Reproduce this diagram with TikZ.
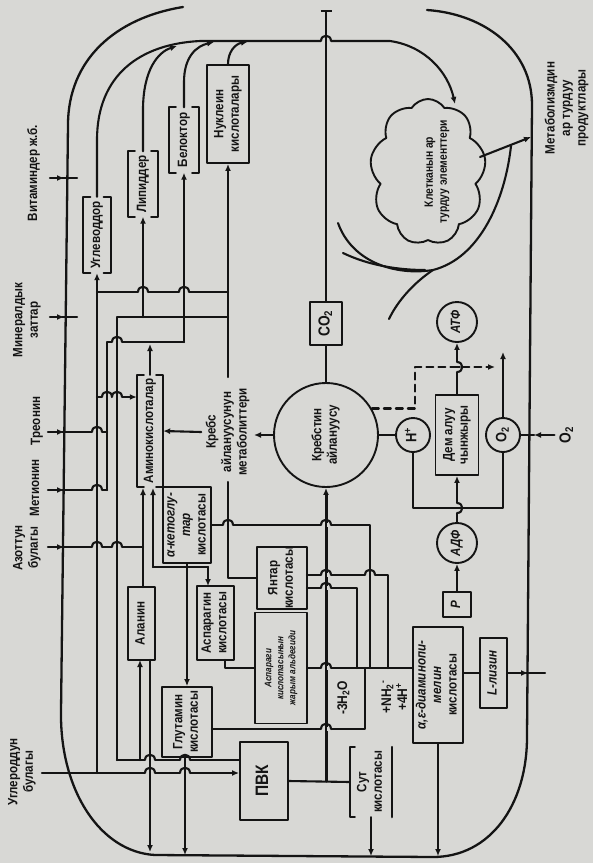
\documentclass[tikz,border=0pt]{standalone}
\usepackage{graphicx}
\usepackage{fontspec}
\setmainfont{Liberation Sans}[FakeStretch=0.86]
\usetikzlibrary{arrows.meta,calc,shapes.symbols}

\definecolor{paper}{RGB}{216,216,213}
\definecolor{ink}{RGB}{20,20,20}

% rotated text, read from bottom to top
\newcommand\rt[2][]{\rotatebox{90}{#1\begin{tabular}{@{}c@{}}#2\end{tabular}}}
% horizontal line hopping over a vertical one
\newcommand\hoph[2]{%
  \fill[paper] (#1-5,#2-2.2) rectangle (#1+5,#2+2.2);
  \draw[bus] (#1-5,#2) .. controls (#1-5,#2-7) and (#1+5,#2-7) .. (#1+5,#2);
  \draw[bus] (#1,#2-2.8) -- (#1,#2+2.8);}
% vertical line hopping over a horizontal one
\newcommand\hopv[2]{%
  \fill[paper] (#1-2.2,#2-5) rectangle (#1+2.2,#2+5);
  \draw[bus] (#1,#2-5) .. controls (#1+7,#2-5) and (#1+7,#2+5) .. (#1,#2+5);
  \draw[bus] (#1-2.8,#2) -- (#1+2.8,#2);}
% open box [ ]
\newcommand\brkt[1]{%
  \draw[bus] ($(#1.north west)+(7,0)$) -- (#1.north west) -- (#1.south west) -- ($(#1.south west)+(7,0)$);
  \draw[bus] ($(#1.north east)+(-7,0)$) -- (#1.north east) -- (#1.south east) -- ($(#1.south east)+(-7,0)$);}

\tikzset{
  bus/.style={draw=ink,line width=2.1pt},
  tip/.style={-{Latex[length=7pt,width=6pt]}},
  boxn/.style={draw=ink,line width=1.9pt,inner sep=0pt},
  brk/.style={inner sep=0pt},
  rnd/.style={circle,draw=ink,line width=1.9pt,inner sep=0pt},
}

\begin{document}
\begin{tikzpicture}[x=1pt,y=-1pt,line cap=round,line join=round,
  every node/.style={text=ink,font=\bfseries\fontsize{13.5}{15.5}\selectfont}]
\fill[paper] (0,0) rectangle (593,863);
\useasboundingbox (0,0) rectangle (593,863);

% cell membrane
\draw[bus,line width=2.3pt] (183,7) .. controls (115,18) and (68,60) .. (68,125) -- (61,712)
  .. controls (60,790) and (100,852) .. (155,855) -- (433,857)
  .. controls (490,857) and (527,805) .. (527,737) -- (532,105)
  .. controls (532,50) and (485,14) .. (427,10);

% boxes
\node[brk,minimum width=27,minimum height=76] (ugl) at (97,235) {\rt{Углеводдор}};
\node[brk,minimum width=30,minimum height=65] (lip) at (143,184) {\rt{Липиддер}};
\node[brk,minimum width=30,minimum height=65] (bel) at (184,140) {\rt{Белоктор}};
\node[boxn,minimum width=42,minimum height=98] (nuk) at (228,114) {\rt{Нуклеин\\кислоталары}};
\node[brk,minimum width=26,minimum height=112] (amino) at (150,431) {\rt{Аминокислоталар}};
\node[boxn,minimum width=48,minimum height=76] (keto) at (187,525) {\rt{\itshape α-кетоглу-\\\itshape тар\\кислотасы}};
\node[boxn,minimum width=27,minimum height=73] (alan) at (141.5,623.5) {\rt{Аланин}};
\node[boxn,minimum width=37,minimum height=74] (asp) at (215.5,623) {\rt{Аспарагин\\кислотасы}};
\node[boxn,minimum width=50,minimum height=60] (yant) at (282,578) {\rt{Янтар\\кислотасы}};
\node[boxn,minimum width=52,minimum height=111] (ald) at (281,668) {\rt[\itshape\fontsize{9.5}{12}\selectfont]{Аспараги\\кислотасынын\\жарым альдегиди}};
\node[boxn,minimum width=50,minimum height=70] (glut) at (187,722) {\rt{Глутамин\\кислотасы}};
\node[boxn,minimum width=48,minimum height=78] (pvk) at (264,781) {\rt[\fontsize{18}{20}\selectfont]{ПВК}};
\node[brk,minimum width=42,minimum height=70] (sut) at (371,782) {\rt{Сут\\кислотасы}};
\node[boxn,minimum width=50,minimum height=116] (dap) at (438,685) {\rt{\itshape α,ε-диаминопи-\\\itshape мелин\\кислотасы}};
\node[boxn,minimum width=27,minimum height=70] (lys) at (493.5,673) {\rt[\itshape]{L-лизин}};
\node[boxn,minimum width=28,minimum height=25] (pb) at (457,604.5) {\rt[\itshape]{P}};
\node[boxn,minimum width=43,minimum height=80] (dem) at (457,435) {\rt{Дем алуу\\чынжыры}};
\node[boxn,minimum width=32,minimum height=43] (co2) at (326,323.5) {\rt[\fontsize{16}{18}\selectfont]{CO\textsubscript{2}}};

% circles
\node[rnd,minimum size=104] (krebs) at (326,435) {\rt{Кребстин\\айлануусу}};
\node[rnd,minimum size=34] (hp) at (413,435) {\rt[\fontsize{15}{17}\selectfont]{H\textsuperscript{+}}};
\node[rnd,minimum size=34] (o2c) at (503,435) {\rt[\fontsize{15}{17}\selectfont]{O\textsubscript{2}}};
\node[rnd,minimum size=40] (atf) at (457,322) {\rt[\itshape]{АТФ}};
\node[rnd,minimum size=40] (adf) at (457,543) {\rt[\itshape]{АДФ}};

% cloud
\node[cloud,draw=ink,line width=1.9pt,cloud puffs=9,cloud puff arc=115,
  minimum width=116,minimum height=146,inner sep=0pt] (cld) at (428,172) {};
\node (cldt) at (437,172) {\rt[\fontsize{12}{14}\selectfont]{Клетканын ар\\турдуу элементтери}};

% labels
\node (vit) at (34,173) {\rt{Витаминдер ж.б.}};
\node (minz) at (27,320) {\rt{Минералдык\\заттар}};
\node (tre) at (37,421) {\rt{Треонин}};
\node (met) at (36,488) {\rt{Метионин}};
\node (azot) at (27,548) {\rt{Азоттун\\булагы}};
\node (csrc) at (22,772) {\rt{Углероддун\\булагы}};
\node (kmet) at (228,432) {\rt{Кребс\\айлануусунун\\метаболиттери}};
\node (metab) at (567,108) {\rt{Метаболизмдин\\ар турдуу\\продуктлары}};
\node (o2l) at (567,435) {\rt[\fontsize{16}{18}\selectfont]{O\textsubscript{2}}};
\node (h2o) at (344,698) {\rt[\fontsize{14}{16}\selectfont]{-3H\textsubscript{2}O}};
\node (nh) at (396,697) {\rt[\fontsize{14}{16}\selectfont]{+NH\textsubscript{2}\textsuperscript{-}\\+4H\textsuperscript{+}}};

\brkt{ugl}
\brkt{lip}
\brkt{bel}
\brkt{amino}
\draw[bus] ($(sut.north west)+(5,0)$) -- (sut.north west) -- (sut.south west) -- ($(sut.south west)+(5,0)$);
\draw[bus] (sut.north east) -- (sut.south east);

% products to the cell elements
\draw[bus,tip] (ugl.north) -- (97,140) .. controls (97,75) and (140,44) .. (200,41) -- (390,41)
  .. controls (425,46) and (448,72) .. (455,104);
\draw[bus,tip] (lip.north) -- (143,110) .. controls (143,70) and (158,52) .. (177,46);
\draw[bus,tip] (bel.north) -- (184,82) .. controls (184,56) and (197,46) .. (214,42);
\draw[bus,tip] (nuk.north) .. controls (228,52) and (235,44) .. (248,41.5);
\draw[bus] (krebs.north) -- (co2.south);
\draw[bus,-{Bar[width=11pt]}] (co2.north) -- (326,10);
\draw[bus,tip] (480,157) -- (531,137);
\draw[bus] (338,223) .. controls (352,262) and (395,276) .. (433,270) .. controls (480,258) and (505,200) .. (511,146);
\draw[bus] (343,253) .. controls (370,266) and (400,270) .. (425,270);
\draw[bus] (433,270) .. controls (415,282) and (398,300) .. (389,319);

% inputs through the membrane
\foreach \yy in {178,317} {
  \draw[bus,tip] (50,\yy) -- (64,\yy);
  \draw[bus] (62,\yy) -- (77,\yy);
}
\foreach \yy/\xe in {432/107,490/107,547/143} {
  \draw[bus,tip] (48,\yy) -- (64,\yy);
  \draw[bus] (62,\yy) -- (\xe,\yy);
}
\draw[bus,tip] (42,773) -- (pvk.west |- 0,773);

% left bus
\draw[bus,tip] (97,773) -- (ugl.south);
\draw[bus] (97,292) -- (228,292);
\draw[bus] (117,760) -- (117,317) -- (228,317);
\draw[bus,tip] (143,317) -- (lip.south);
\draw[bus] (107,490) -- (107,342) -- (184,342);
\draw[bus,tip] (184,342) -- (bel.south);
\draw[bus,tip] (amino.north) -- (150,344);
\draw[bus,tip] (97,397) -- (amino.west |- 0,397);
\draw[bus,tip] (228,377) -- (nuk.south);
\draw[bus,tip] (krebs.west) -- (254,435);
\draw[bus,tip] (kmet.west) -- (amino.east);
\draw[bus] (228,482) |- (yant.west);
\draw[bus] (117,760) -- (pvk.west |- 0,760);
\draw[bus,tip] (140,760) -- (140,660);
\draw[bus,tip] (150,660) -- (150,852);
\draw[bus,tip] (185,757) -- (185,855);
\draw[bus,tip] (143,587) -- (143,488);
\draw[bus] (153,567) -- (208,567);
\draw[bus,tip] (153,567) -- (153,488);
\draw[bus,tip] (208,567) -- (208,586);
\draw[bus,tip] (keto.south) -- (glut.north);

% lysine branch
\draw[bus] (keto.east) -- (370,525) -- (370,668);
\draw[bus] (307,575) -- (388,575) -- (388,668);
\draw[bus] (307,588) -- (357,588) -- (357,668);
\draw[bus] (225,660) |- (ald.west);
\draw[bus] (ald.east) -- (ald.east -| dap.west);
\draw[bus] (212,729) -- (365,729) -- (365,668);
\draw[bus] (lys.west -| dap.east) -- (lys.west);
\draw[bus,tip] (lys.east) -- (528,673);
\draw[bus] (526,673) -- (545,673);
\draw[bus,tip] (dap.south) -- (438,856);

% pyruvate
\draw[bus] (pvk.east) -- (sut.west);
\draw[bus,line width=3pt,tip] (326,781) -- (krebs.south);
\draw[bus,tip] (sut.south) -- (371,856);

% respiration
\draw[bus] (krebs.east) -- (hp.west);
\draw[bus] (hp.south) -- (413,508) -- (503,508) -- (o2c.south);
\draw[bus,tip] (o2l.west) -- (534,435);
\draw[bus] (534,435) -- (o2c.east);
\draw[bus,tip] (o2c.north) -- (503,352);
\draw[bus,tip] (pb.north) -- (adf.south);
\draw[bus,tip] (adf.north) -- (dem.south);
\draw[bus,tip] (dem.north) -- (atf.south);
\draw[bus,dashed,dash pattern=on 7pt off 5pt,tip] (krebs.30) -| (415,367) -- (495,367);

% hops
\hoph{326}{41}
\hoph{143}{292}
\hoph{184}{292}
\hoph{117}{342}
\hoph{107}{397}
\hoph{117}{397}
\hoph{97}{432}
\hoph{97}{490}
\hoph{97}{547}
\hoph{117}{547}
\hoph{150}{760}
\hoph{185}{760}
\hoph{150}{773}
\hoph{185}{773}
\hoph{228}{525}
\hoph{326}{525}
\hoph{326}{575}
\hoph{370}{575}
\hoph{326}{588}
\hoph{326}{668}
\hoph{326}{729}
\hopv{457}{508}
\hopv{457}{367}
\end{tikzpicture}
\end{document}
